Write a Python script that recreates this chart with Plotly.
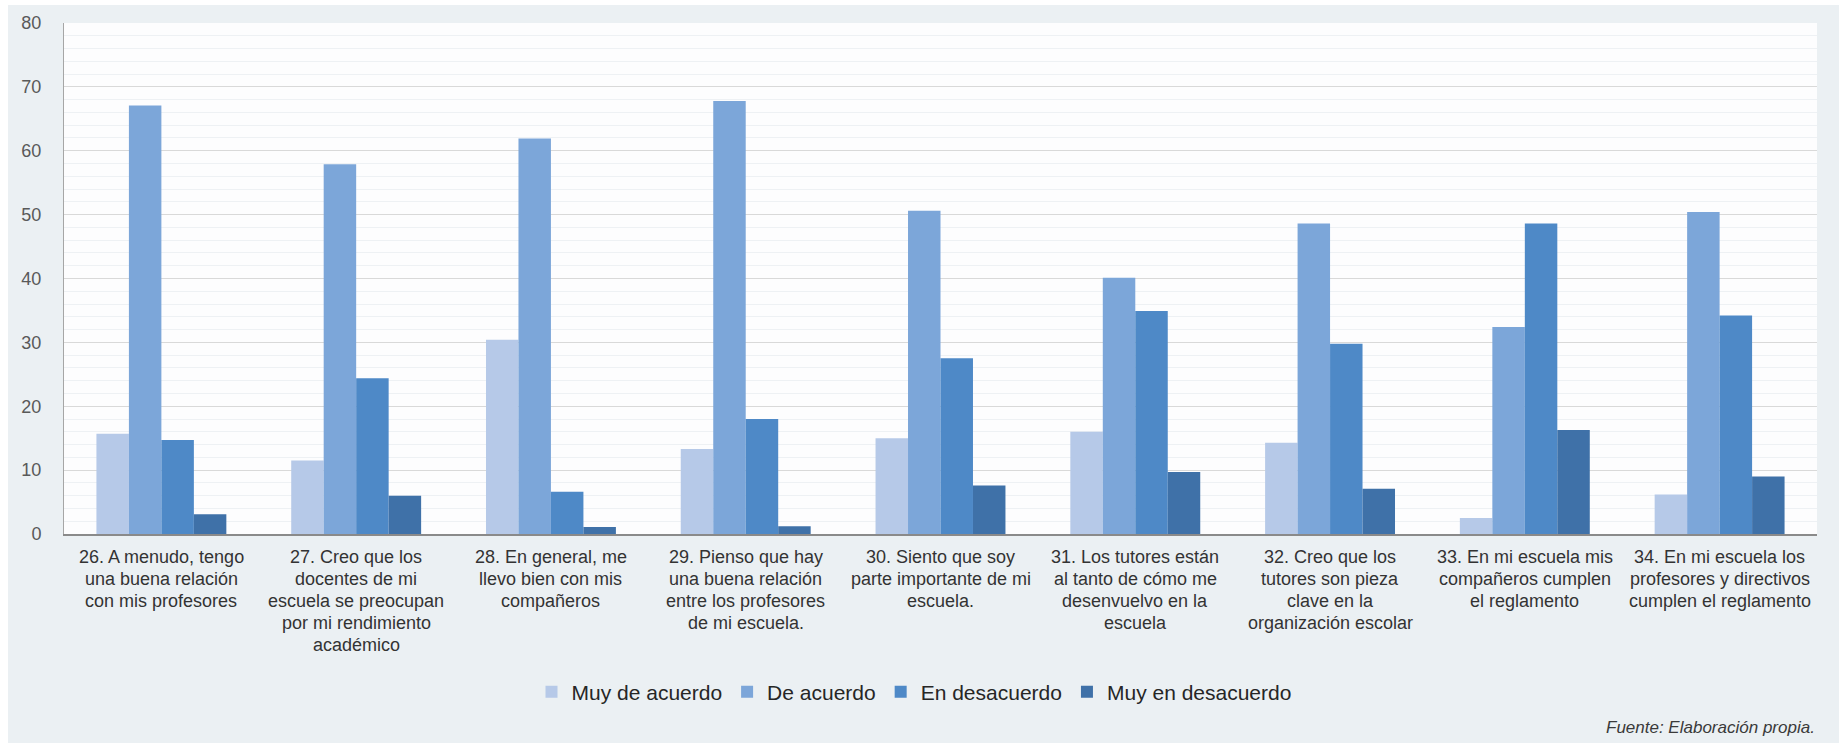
import plotly.graph_objects as go

# Survey items (each entry holds the lines of the category label)
items = [
    ["26. A menudo, tengo", "una buena relación", "con mis profesores"],
    ["27. Creo que los", "docentes de mi", "escuela se preocupan", "por mi rendimiento", "académico"],
    ["28. En general, me", "llevo bien con mis", "compañeros"],
    ["29. Pienso que hay", "una buena relación", "entre los profesores", "de mi escuela."],
    ["30. Siento que soy", "parte importante de mi", "escuela."],
    ["31. Los tutores están", "al tanto de cómo me", "desenvuelvo en la", "escuela"],
    ["32. Creo que los", "tutores son pieza", "clave en la", "organización escolar"],
    ["33. En mi escuela mis", "compañeros cumplen", "el reglamento"],
    ["34. En mi escuela los", "profesores y directivos", "cumplen el reglamento"],
]
categories = ["<br>".join(lines) for lines in items]

series_names = ["Muy de acuerdo", "De acuerdo", "En desacuerdo", "Muy en desacuerdo"]
muy_de_acuerdo = [15.7, 11.5, 30.4, 13.3, 15.0, 16.0, 14.3, 2.5, 6.2]
de_acuerdo = [67.1, 57.9, 61.9, 67.8, 50.6, 40.1, 48.6, 32.4, 50.4]
en_desacuerdo = [14.7, 24.4, 6.6, 18.0, 27.5, 34.9, 29.8, 48.6, 34.2]
muy_en_desacuerdo = [3.1, 6.0, 1.1, 1.2, 7.6, 9.7, 7.1, 16.3, 9.0]

y_ticks = [0, 10, 20, 30, 40, 50, 60, 70, 80]
source_note = "Fuente: Elaboración propia."

colors = ["#b6c9e8", "#7ca6d9", "#4e89c7", "#3f71a8"]
values = [muy_de_acuerdo, de_acuerdo, en_desacuerdo, muy_en_desacuerdo]

W, H = 1847, 743
L, R, T, B = 64, 30, 23, 209
plot_w = W - L - R
plot_h = H - T - B

fig = go.Figure()
for name, vals, col in zip(series_names, values, colors):
    fig.add_trace(go.Bar(
        x=categories, y=vals, name=name,
        marker=dict(color=col, line=dict(width=0)),
        hoverinfo="x+y+name",
    ))

# Multi-line category labels, drawn line by line for tight leading
annotations = []
for cat, lines in zip(categories, items):
    for i, line in enumerate(lines):
        annotations.append(dict(
            x=cat, y=0, xref="x", yref="y",
            text=line, showarrow=False,
            xanchor="center", yanchor="middle",
            yshift=-(23 + 22 * i),
            font=dict(family="Liberation Sans, Arial, sans-serif", size=18, color="#333333"),
        ))

annotations.append(dict(
    x=1.0, y=(T + plot_h - 728) / plot_h, xref="paper", yref="paper",
    text=f"<i>{source_note}</i>", showarrow=False,
    xanchor="right", yanchor="middle",
    font=dict(family="Liberation Sans, Arial, sans-serif", size=17, color="#3a3a3a"),
))

def px_x(p):
    return (p - L) / plot_w

def px_y(p):
    return (T + plot_h - p) / plot_h

# White border around the grey panel
shapes = [
    dict(type="rect", xref="paper", yref="paper", layer="below",
         x0=px_x(0), x1=px_x(8), y0=px_y(H), y1=px_y(0),
         fillcolor="white", line=dict(width=0)),
    dict(type="rect", xref="paper", yref="paper", layer="below",
         x0=px_x(1839), x1=px_x(W), y0=px_y(H), y1=px_y(0),
         fillcolor="white", line=dict(width=0)),
    dict(type="rect", xref="paper", yref="paper", layer="below",
         x0=px_x(0), x1=px_x(W), y0=px_y(5), y1=px_y(0),
         fillcolor="white", line=dict(width=0)),
]

fig.update_layout(
    width=W, height=H,
    margin=dict(l=L, r=R, t=T, b=B, pad=0),
    paper_bgcolor="#ebf0f3",
    plot_bgcolor="#fdfdfe",
    barmode="group",
    bargap=0.333,
    bargroupgap=0,
    font=dict(family="Liberation Sans, Arial, sans-serif", color="#333333"),
    showlegend=True,
    legend=dict(
        orientation="h",
        x=px_x(914), xanchor="center",
        y=px_y(692), yanchor="middle",
        bgcolor="rgba(0,0,0,0)",
        font=dict(size=21, color="#262626"),
        traceorder="normal",
    ),
    annotations=annotations,
    shapes=shapes,
)

fig.update_xaxes(
    showticklabels=False,
    showline=True, linecolor="#8a8a8a", linewidth=2,
    ticks="", showgrid=False,
)
fig.update_yaxes(
    range=[0, 80],
    tickvals=y_ticks,
    tickfont=dict(size=18, color="#595959"),
    ticklabelstandoff=18,
    showline=True, linecolor="#a6a6a6", linewidth=1,
    gridcolor="#d9d9d9", gridwidth=1,
    minor=dict(dtick=2, showgrid=True, gridcolor="#eef1f4", gridwidth=1),
    zeroline=False,
)

fig.write_html("out.html")
